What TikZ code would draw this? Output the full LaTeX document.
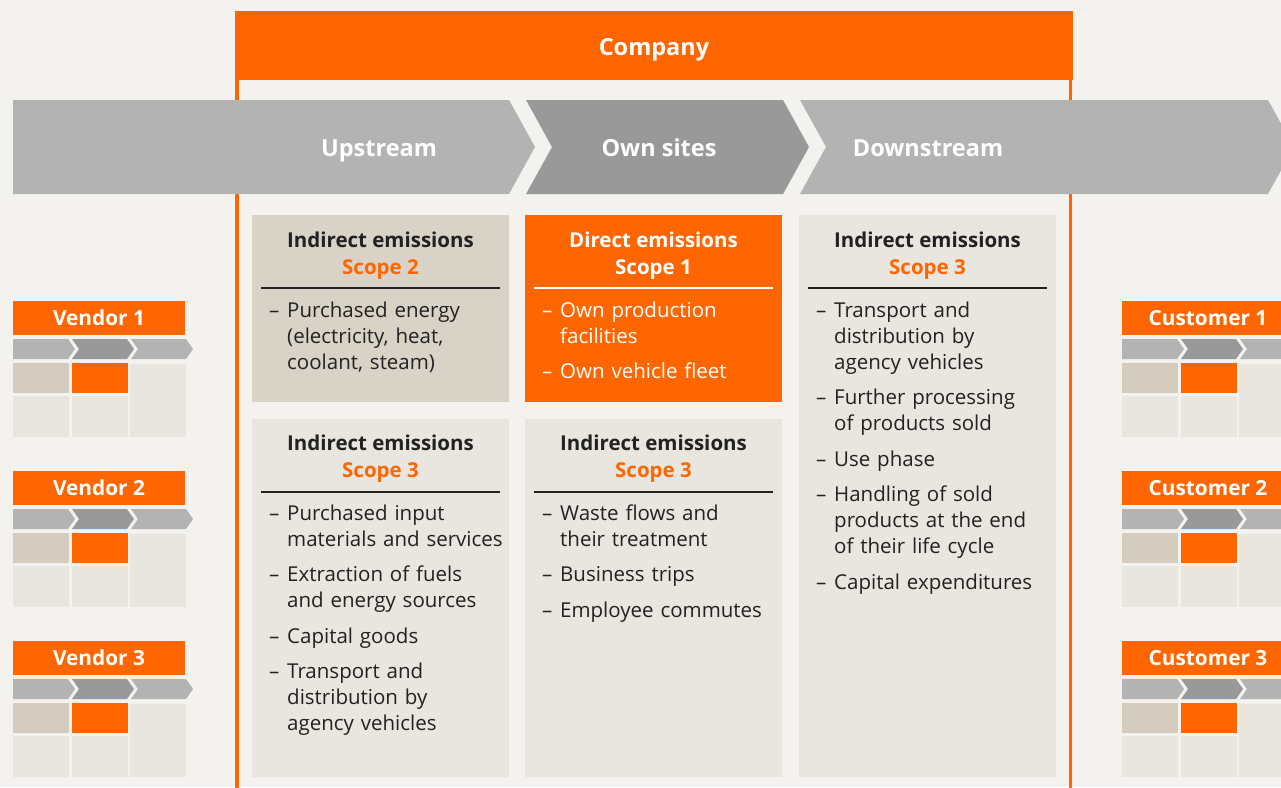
\documentclass[tikz,border=0pt]{standalone}
\usepackage{fontspec}
\setmainfont{Open Sans}
\usetikzlibrary{calc}
\definecolor{brand}{HTML}{FF6600}
\definecolor{paper}{HTML}{F3F2EE}
\definecolor{chevlight}{HTML}{B3B3B3}
\definecolor{chevdark}{HTML}{999999}
\definecolor{sand}{HTML}{D9D2C6}
\definecolor{sandcell}{HTML}{D4CCBE}
\definecolor{pale}{HTML}{E9E5DF}
\definecolor{ink}{HTML}{222222}
\newcommand{\panelfont}{\fontsize{20.5}{26}\selectfont}
\newcommand{\headfont}{\fontsize{20.5}{27}\selectfont\bfseries}
\newcommand{\bandfont}{\fontsize{23.5}{26}\selectfont\bfseries}
% one list entry: en dash, then the text hangs under its first word
\newcommand{\emitem}[1]{\hangindent=18pt\hangafter=1\noindent\makebox[18pt][l]{--}#1\par}
\tikzset{
  every picture/.style = {font=\panelfont, line join=round},
  panel/.style         = {inner sep=0pt, outer sep=0pt, anchor=north west, minimum width=257pt},
  head/.style          = {align=center, font=\headfont, text=ink, inner sep=0pt},
  items/.style         = {anchor=base west, inner sep=0pt, text width=300pt, text=ink,
                          execute at begin node={\setlength{\parskip}{9.5pt}}},
  rule/.style          = {ink, line width=1.2pt},
  bandlabel/.style     = {text=white, font=\bandfont, anchor=base},
  partnerhead/.style   = {fill=brand, text=white, font=\fontsize{20.8}{22}\selectfont\bfseries,
                          minimum width=172pt, minimum height=34pt, inner sep=0pt},
}

\begin{document}
\begin{tikzpicture}[x=1pt, y=-1pt]
  \useasboundingbox (0,0) rectangle (1281,787);
  \fill[paper] (0,0) rectangle (1281,787);
  \clip (0,0) rectangle (1281,787);

  % small value chain next to a partner: head bar, three chevrons, cell grid
  % \partner{node name}{label}{shift}
  \newcommand{\minichev}[3]{%
    \fill[#2] (#1,39) -- ++(55,0) -- ++(7,10) -- ++(-7,10) -- ++(-55,0) -- ++(#3,-10) -- cycle;}
  \newcommand{\partner}[3]{%
    \begin{scope}[shift={#3}]
      \node[partnerhead] (#1) at (86,18) {#2};
      \minichev{0}{chevlight}{0}
      \minichev{59}{chevdark}{7}
      \minichev{118}{chevlight}{7}
      \fill[sandcell] (0,63) rectangle (56,93);
      \fill[brand]    (59,63) rectangle (115,93);
      \fill[pale]     (0,96) rectangle (56,137);
      \fill[pale]     (59,96) rectangle (115,137);
      \fill[pale]     (117,64) rectangle (173,137);
    \end{scope}}

  % --- company frame: header bar and the two side rails ----------------------
  \fill[brand] (235,11) rectangle (1073,80);
  \node[bandlabel] (company) at (654,55) {Company};
  \draw[brand, line width=3.5pt] (236.75,80) -- (236.75,790);
  \draw[brand, line width=3.5pt] (1070.25,80) -- (1070.25,790);

  % --- value chain band ------------------------------------------------------
  \fill[chevlight] (13,100) -- (509,100) -- (535,147) -- (509,194) -- (13,194) -- cycle;
  \fill[chevdark]  (526,100) -- (783,100) -- (809,147) -- (783,194) -- (526,194) -- (552,147) -- cycle;
  \fill[chevlight] (800,100) -- (1268,100) -- (1294,147) -- (1268,194) -- (800,194) -- (826,147) -- cycle;
  \node[bandlabel] (upstream)   at (379,156) {Upstream};
  \node[bandlabel] (ownsites)   at (659,156) {Own sites};
  \node[bandlabel] (downstream) at (928,156) {Downstream};

  % --- emission panels -------------------------------------------------------
  \node[panel, fill=sand,  minimum height=187pt] (sc2box)   at (252,215) {};
  \node[panel, fill=brand, minimum height=187pt] (sc1box)   at (525,215) {};
  \node[panel, fill=pale,  minimum height=358pt] (up3box)   at (252,419) {};
  \node[panel, fill=pale,  minimum height=358pt] (own3box)  at (525,419) {};
  \node[panel, fill=pale,  minimum height=562pt] (down3box) at (799,215) {};

  % upstream, scope 2
  \node[head] (sc2head) at ($(sc2box.north)+(0,40.5)$) {Indirect emissions\\\textcolor{brand}{Scope 2}};
  \draw[rule] ($(sc2box.north west)+(9,73)$) -- ($(sc2box.north east)+(-9,73)$);
  \node[items] (sc2list) at ($(sc2box.north west)+(17,102)$)
    {\emitem{Purchased energy\newline (electricity, heat,\newline coolant, steam)}};

  % own sites, scope 1 (white on orange)
  \node[head, text=white] (sc1head) at ($(sc1box.north)+(0,40.5)$) {Direct emissions\\Scope 1};
  \draw[rule, white] ($(sc1box.north west)+(9,73)$) -- ($(sc1box.north east)+(-9,73)$);
  \node[items, text=white] (sc1list) at ($(sc1box.north west)+(17,102)$)
    {\emitem{Own production\newline facilities}\emitem{Own vehicle fleet}};

  % upstream, scope 3
  \node[head] (up3head) at ($(up3box.north)+(0,40)$) {Indirect emissions\\\textcolor{brand}{Scope 3}};
  \draw[rule] ($(up3box.north west)+(9,73)$) -- ($(up3box.north east)+(-9,73)$);
  \node[items] (up3list) at ($(up3box.north west)+(17,101)$)
    {\emitem{Purchased input\newline materials and services}
     \emitem{Extraction of fuels\newline and energy sources}
     \emitem{Capital goods}
     \emitem{Transport and\newline distribution by\newline agency vehicles}};

  % own sites, scope 3
  \node[head] (own3head) at ($(own3box.north)+(0,40)$) {Indirect emissions\\\textcolor{brand}{Scope 3}};
  \draw[rule] ($(own3box.north west)+(9,73)$) -- ($(own3box.north east)+(-9,73)$);
  \node[items] (own3list) at ($(own3box.north west)+(17,101)$)
    {\emitem{Waste flows and\newline their treatment}
     \emitem{Business trips}
     \emitem{Employee commutes}};

  % downstream, scope 3
  \node[head] (down3head) at ($(down3box.north)+(0,40.5)$) {Indirect emissions\\\textcolor{brand}{Scope 3}};
  \draw[rule] ($(down3box.north west)+(9,73)$) -- ($(down3box.north east)+(-9,73)$);
  \node[items] (down3list) at ($(down3box.north west)+(17,102)$)
    {\emitem{Transport and\newline distribution by\newline agency vehicles}
     \emitem{Further processing\newline of products sold}
     \emitem{Use phase}
     \emitem{Handling of sold\newline products at the end\newline of their life cycle}
     \emitem{Capital expenditures}};

  % --- vendors and customers -------------------------------------------------
  \partner{vendor1}{Vendor 1}{(13,300)}
  \partner{vendor2}{Vendor 2}{(13,470)}
  \partner{vendor3}{Vendor 3}{(13,640)}
  \partner{customer1}{Customer 1}{(1122,300)}
  \partner{customer2}{Customer 2}{(1122,470)}
  \partner{customer3}{Customer 3}{(1122,640)}
\end{tikzpicture}
\end{document}
